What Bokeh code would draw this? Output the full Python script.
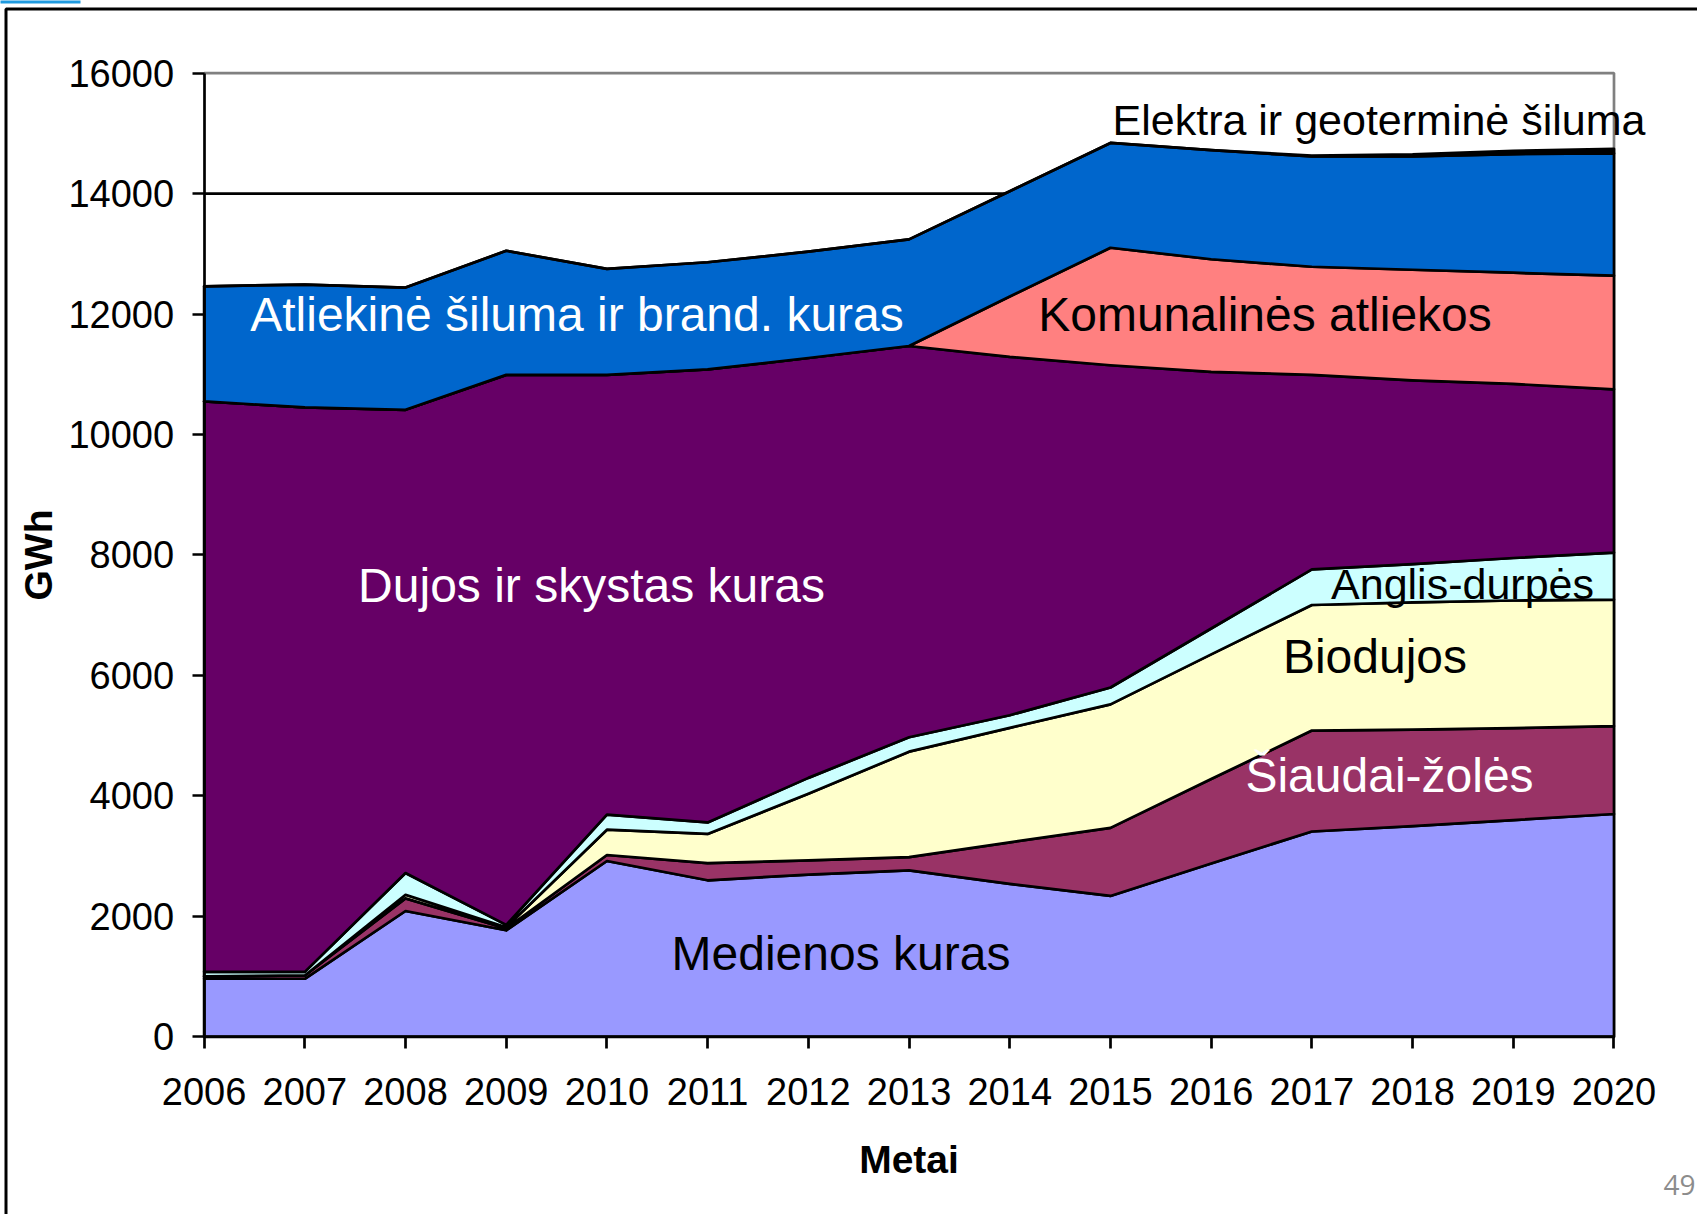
import numpy as np
from bokeh.plotting import figure
from bokeh.models import Range1d, FixedTicker, Label
from bokeh.embed import file_html
from bokeh.resources import INLINE

# ---- data (GWh) ----
years = list(range(2006, 2021))
medienos_kuras = [965, 965, 2090, 1770, 2920, 2600, 2695, 2765, 2540, 2340, 2880, 3410, 3500, 3600, 3700]
siaudai_zoles = [40, 55, 210, 30, 100, 285, 235, 220, 690, 1130, 1400, 1675, 1600, 1525, 1460]
biodujos = [0, 0, 60, 20, 420, 485, 1105, 1750, 1900, 2050, 2070, 2085, 2115, 2120, 2100]
anglis_durpes = [75, 60, 360, 40, 250, 190, 265, 240, 210, 280, 430, 590, 635, 705, 780]
dujos_skystas = [9470, 9370, 7690, 9130, 7300, 7520, 6970, 6495, 5950, 5350, 4260, 3230, 3050, 2890, 2710]
komunalines = [0, 0, 0, 0, 0, 0, 0, 0, 1000, 1950, 1870, 1795, 1835, 1846, 1887]
atliekine_siluma = [1910, 2040, 2030, 2060, 1760, 1780, 1765, 1770, 1750, 1740, 1810, 1830, 1880, 1970, 2030]
elektra_geoterm = [0, 0, 0, 0, 0, 0, 0, 0, 0, 0, 0, 15, 35, 55, 75]

y_ticks = [0, 2000, 4000, 6000, 8000, 10000, 12000, 14000, 16000]

series = [medienos_kuras, siaudai_zoles, biodujos, anglis_durpes,
          dujos_skystas, komunalines, atliekine_siluma, elektra_geoterm]
colors = ["#9999FF", "#993366", "#FFFFCC", "#CCFFFF",
          "#660066", "#FF8080", "#0066CC", "#000000"]

# ---- layout geometry (pixels on the canvas) ----
W, H = 1697, 1214
X0_PX, PX_PER_YEAR = 203.6, 100.707      # pixel of 2006, pixels per year
Y0_PX, PX_PER_UNIT = 1036.4, 0.060238    # pixel of 0 GWh, pixels per GWh


def px2x(px):
    return years[0] + (px - X0_PX) / PX_PER_YEAR


def py2y(py):
    return (Y0_PX - py) / PX_PER_UNIT


FONT = "Liberation Sans"
LW = 2.7

p = figure(width=W, height=H, output_backend="svg", toolbar_location=None,
           x_range=Range1d(px2x(0), px2x(W)), y_range=Range1d(py2y(H), py2y(0)),
           min_border=0)
p.background_fill_color = "white"
p.border_fill_color = "white"
p.outline_line_color = None

# slide frame and accent
p.line([px2x(5.5), px2x(5.5), px2x(W + 5)], [py2y(H + 5), py2y(8.5), py2y(8.5)],
       line_color="black", line_width=3)
p.quad(left=px2x(-2), right=px2x(80), top=py2y(-2), bottom=py2y(3), fill_color="#1E9AE0", line_color=None)

# horizontal gridlines limited to the plot area
p.xgrid.visible = False
p.ygrid.visible = False
grid_y = y_ticks[1:-1]
p.segment(x0=[years[0]] * len(grid_y), x1=[years[-1]] * len(grid_y), y0=grid_y, y1=grid_y,
          line_color="black", line_width=LW)

# plot-area border (grey, top and right)
p.line([years[0], years[-1], years[-1]], [y_ticks[-1], y_ticks[-1], 0],
       line_color="#808080", line_width=LW)

bottom = np.zeros(len(years))
for vals, col in zip(series, colors):
    top = bottom + np.array(vals, dtype=float)
    xs = years + years[::-1]
    ys = list(top) + list(bottom[::-1])
    p.patch(xs, ys, fill_color=col, line_color="black", line_width=LW, line_join="round")
    bottom = top

p.xaxis.fixed_location = 0
p.yaxis.fixed_location = years[0]
p.xaxis.bounds = (years[0], years[-1])
p.yaxis.bounds = (0, y_ticks[-1])

for ax in (p.xaxis[0], p.yaxis[0]):
    ax.axis_line_color = "black"
    ax.axis_line_width = LW
    ax.major_tick_line_color = "black"
    ax.major_tick_line_width = LW
    ax.major_tick_out = 12
    ax.major_tick_in = 0
    ax.minor_tick_line_color = None
    ax.major_label_text_font = FONT
    ax.major_label_text_font_size = "38px"
    ax.major_label_text_color = "black"
    ax.axis_label_text_font = FONT
    ax.axis_label_text_font_size = "39px"
    ax.axis_label_text_font_style = "bold"
    ax.axis_label_text_color = "black"

p.xaxis.ticker = FixedTicker(ticks=years)
p.yaxis.ticker = FixedTicker(ticks=y_ticks)
p.xaxis.axis_label = "Metai"
p.yaxis.axis_label = "GWh"
p.xaxis.major_label_standoff = 29
p.xaxis.axis_label_standoff = 30
p.yaxis.major_label_standoff = 18
p.yaxis.axis_label_standoff = 6

labels = [
    ("Atliekinė šiluma ir brand. kuras", 576.5, 313.5, "white", "48px"),
    ("Komunalinės atliekos", 1264.5, 313.5, "black", "48px"),
    ("Elektra ir geoterminė šiluma", 1378.5, 119.2, "black", "43px"),
    ("Dujos ir skystas kuras", 591.0, 585.0, "white", "48px"),
    ("Anglis-durpės", 1462.0, 583.7, "black", "43px"),
    ("Biodujos", 1374.5, 656.3, "black", "48px"),
    ("Šiaudai-žolės", 1389.0, 774.5, "white", "48px"),
    ("Medienos kuras", 840.5, 952.5, "black", "48px"),
]
for txt, cx, cy, col, fs in labels:
    p.add_layout(Label(x=px2x(cx), y=py2y(cy), text=txt, text_align="center", text_baseline="middle",
                       text_font=FONT, text_font_size=fs, text_color=col))

p.add_layout(Label(x=px2x(1695), y=py2y(1184), text="49", text_align="right", text_baseline="middle",
                   text_font="Open Sans", text_font_size="28px", text_color="#8c8c8c"))

open("out.html", "w").write(file_html(p, INLINE))
